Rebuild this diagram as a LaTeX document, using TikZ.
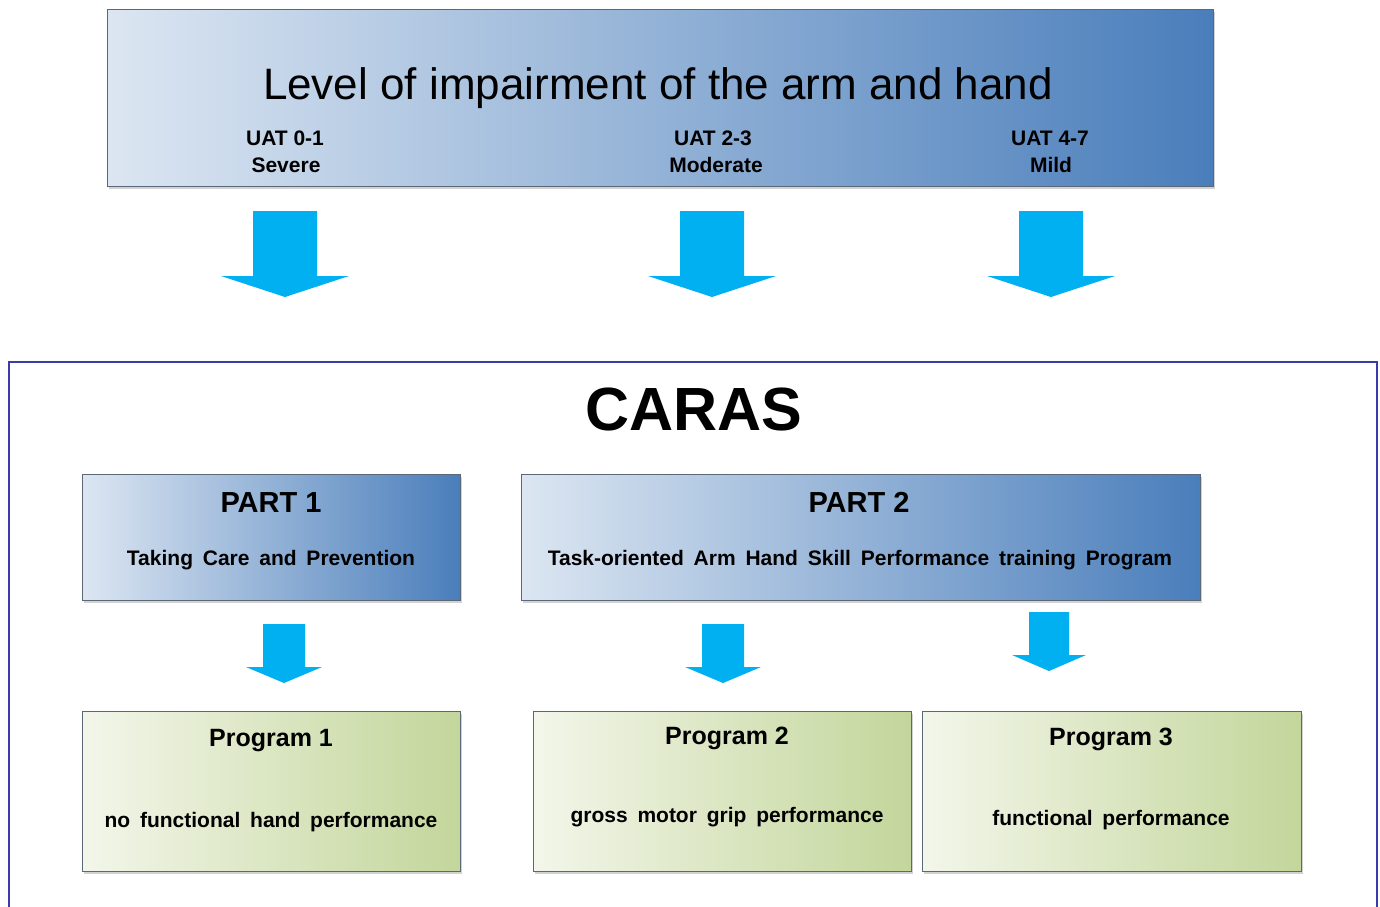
\documentclass[tikz,border=0pt]{standalone}
\usepackage{fontspec}
\setmainfont{Liberation Sans}
\usetikzlibrary{shadows,calc}
\definecolor{bluelight}{HTML}{DCE6F2}
\definecolor{bluemid}{HTML}{B3C6DF}
\definecolor{bluedark}{HTML}{4A7EBB}
\definecolor{greenlight}{HTML}{F3F6EA}
\definecolor{greenmid}{HTML}{DCE7C6}
\definecolor{greendark}{HTML}{C3D69B}
\definecolor{arrowblue}{HTML}{00B0F0}
\definecolor{framecol}{HTML}{3C3CA8}
\definecolor{edgecol}{HTML}{5A6878}
\newcommand\blockarr[7]{% name, x, ytop, ybase, ytip, shafthalf, headhalf
  \coordinate (#1) at (#2,#3);
  \fill[arrowblue] ($(#1)+(-#6,0)$) -- ($(#1)+(#6,0)$) -- (#2+#6,#4) -- (#2+#7,#4)
     -- (#2,#5) -- (#2-#7,#4) -- (#2-#6,#4) -- cycle;}
\newcommand\widespaces{\spaceskip=9.8pt plus 1pt\relax}
\tikzset{
  box/.style={rectangle, draw=edgecol, line width=0.8pt, inner sep=0pt,
    drop shadow={shadow xshift=2pt, shadow yshift=-3pt, opacity=0.25, fill=black!70}},
  bluebox/.style={box, left color=bluelight, middle color=bluemid, right color=bluedark},
  greenbox/.style={box, left color=greenlight, middle color=greenmid, right color=greendark},
  uat/.style={font=\fontsize{21}{25}\selectfont\bfseries, anchor=base, inner sep=0pt},
  small/.style={font=\fontsize{21}{25}\selectfont\bfseries\widespaces, anchor=base, inner sep=0pt},
  parttitle/.style={font=\fontsize{29}{33}\selectfont\bfseries, anchor=base, inner sep=0pt},
  progtitle/.style={font=\fontsize{25}{29}\selectfont\bfseries, anchor=base, inner sep=0pt},
}
\begin{document}
\begin{tikzpicture}[x=1pt, y=-1pt]
\clip (0,0) rectangle (1380,906);
\fill[white] (0,0) rectangle (1380,906);
% top box
\node[bluebox, minimum width=1106pt, minimum height=177pt] (top) at (660,97.5) {};
\node[font=\fontsize{44}{50}\selectfont, anchor=base, inner sep=0pt] (title) at (658,99) {Level of impairment of the arm and hand};
\node[uat] (u1) at (285,145) {UAT 0-1};
\node[uat] (s1) at (286,172) {Severe};
\node[uat] (u2) at (713,145) {UAT 2-3};
\node[uat] (s2) at (716,172) {Moderate};
\node[uat] (u3) at (1050,145) {UAT 4-7};
\node[uat] (s3) at (1051,172) {Mild};
% big arrows
\blockarr{a1}{285}{211}{276}{297}{32}{64}
\blockarr{a2}{712}{211}{276}{297}{32}{64}
\blockarr{a3}{1051}{211}{276}{297}{32}{64}
% frame
\draw[framecol, line width=1.1pt] (9,920) -- (9,362) -- (1377,362) -- (1377,920);
\node[font=\fontsize{61}{66}\selectfont\bfseries, anchor=base, inner sep=0pt] (caras) at (694,430) {CARAS};
% parts
\node[bluebox, minimum width=378pt, minimum height=126pt] (p1) at (271,537) {};
\node[parttitle] (p1t) at (271,512) {PART 1};
\node[small] (p1s) at (271,565) {Taking Care and Prevention};
\node[bluebox, minimum width=679pt, minimum height=126pt] (p2) at (860.5,537) {};
\node[parttitle] (p2t) at (859,512) {PART 2};
\node[small] (p2s) at (860,565) {Task-oriented Arm Hand Skill Performance training Program};
% middle arrows
\blockarr{b1}{284}{624}{667}{683}{21}{38}
\blockarr{b2}{723}{624}{667}{683}{21}{38}
\blockarr{b3}{1049}{612}{655}{671}{20}{37}
% programs
\node[greenbox, minimum width=378pt, minimum height=160pt] (g1) at (271,791) {};
\node[progtitle] (g1t) at (271,746) {Program 1};
\node[small] (g1s) at (271,827) {no functional hand performance};
\node[greenbox, minimum width=378pt, minimum height=160pt] (g2) at (722,791) {};
\node[progtitle] (g2t) at (727,744) {Program 2};
\node[small] (g2s) at (727,822) {gross motor grip performance};
\node[greenbox, minimum width=379pt, minimum height=160pt] (g3) at (1111.5,791) {};
\node[progtitle] (g3t) at (1111,745) {Program 3};
\node[small] (g3s) at (1111,825) {functional performance};
\end{tikzpicture}
\end{document}
